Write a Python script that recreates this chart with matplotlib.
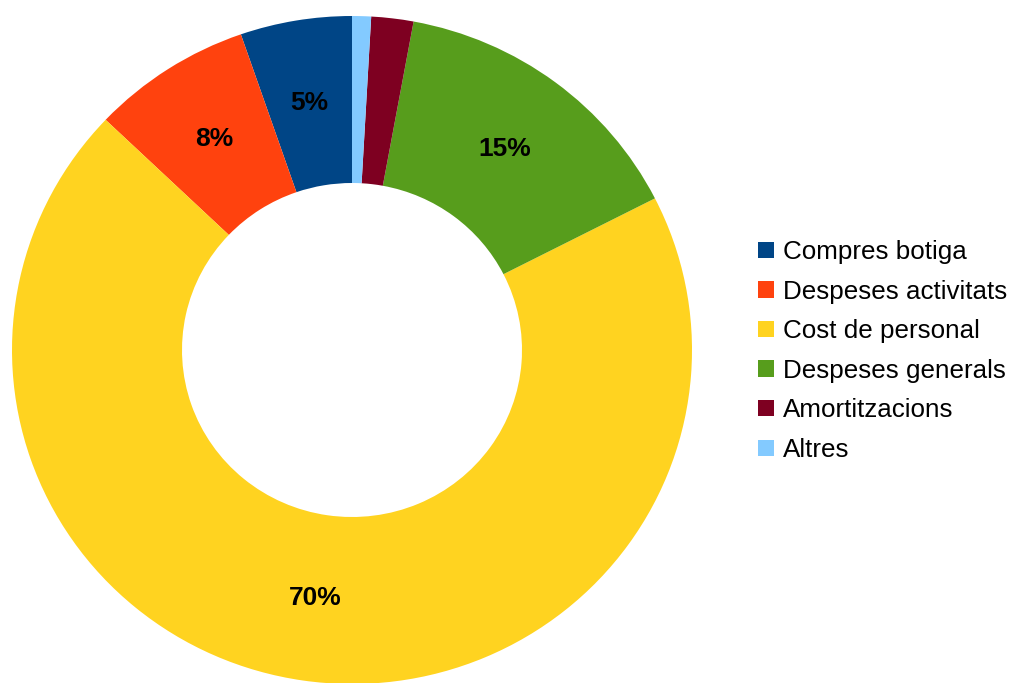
import matplotlib.pyplot as plt
from matplotlib.patches import Patch

plt.rcParams['font.family'] = ['Liberation Sans', 'DejaVu Sans']

categories = ['Compres botiga', 'Despeses activitats', 'Cost de personal',
              'Despeses generals', 'Amortitzacions', 'Altres']
values = [5.3, 7.6, 69.6, 14.6, 2.0, 0.9]
colors = ['#004586', '#ff420e', '#ffd320', '#579d1c', '#7e0021', '#83caff']

W, H = 1034, 683
fig = plt.figure(figsize=(W / 100, H / 100), dpi=100)

# pie area in pixels: centre (352, 350), radii 340 x 334
cx, cy, rx, ry = 352, 350, 340, 334
ax = fig.add_axes([(cx - rx) / W, (H - cy - ry) / H, 2 * rx / W, 2 * ry / H])


def fmt(p):
    return f'{p:.0f}%' if p >= 3 else ''


wedges, texts, autotexts = ax.pie(
    values, colors=colors, startangle=90, counterclock=True,
    autopct=fmt, pctdistance=0.75,
    wedgeprops=dict(width=0.5, linewidth=0),
    textprops=dict(fontsize=19, fontweight='bold', color='black'))
ax.set_aspect('auto')
ax.set_xlim(-1, 1)
ax.set_ylim(-1, 1)
ax.axis('off')

handles = [Patch(facecolor=c, edgecolor='none') for c in colors]
fig.legend(handles, categories, loc='center left',
           bbox_to_anchor=(758 / W, 1 - 351 / H),
           frameon=False, fontsize=18.7,
           handlelength=0.6, handleheight=0.6, handletextpad=0.35,
           labelspacing=0.6, borderpad=0, borderaxespad=0)

fig.savefig('out.png', dpi=100)
